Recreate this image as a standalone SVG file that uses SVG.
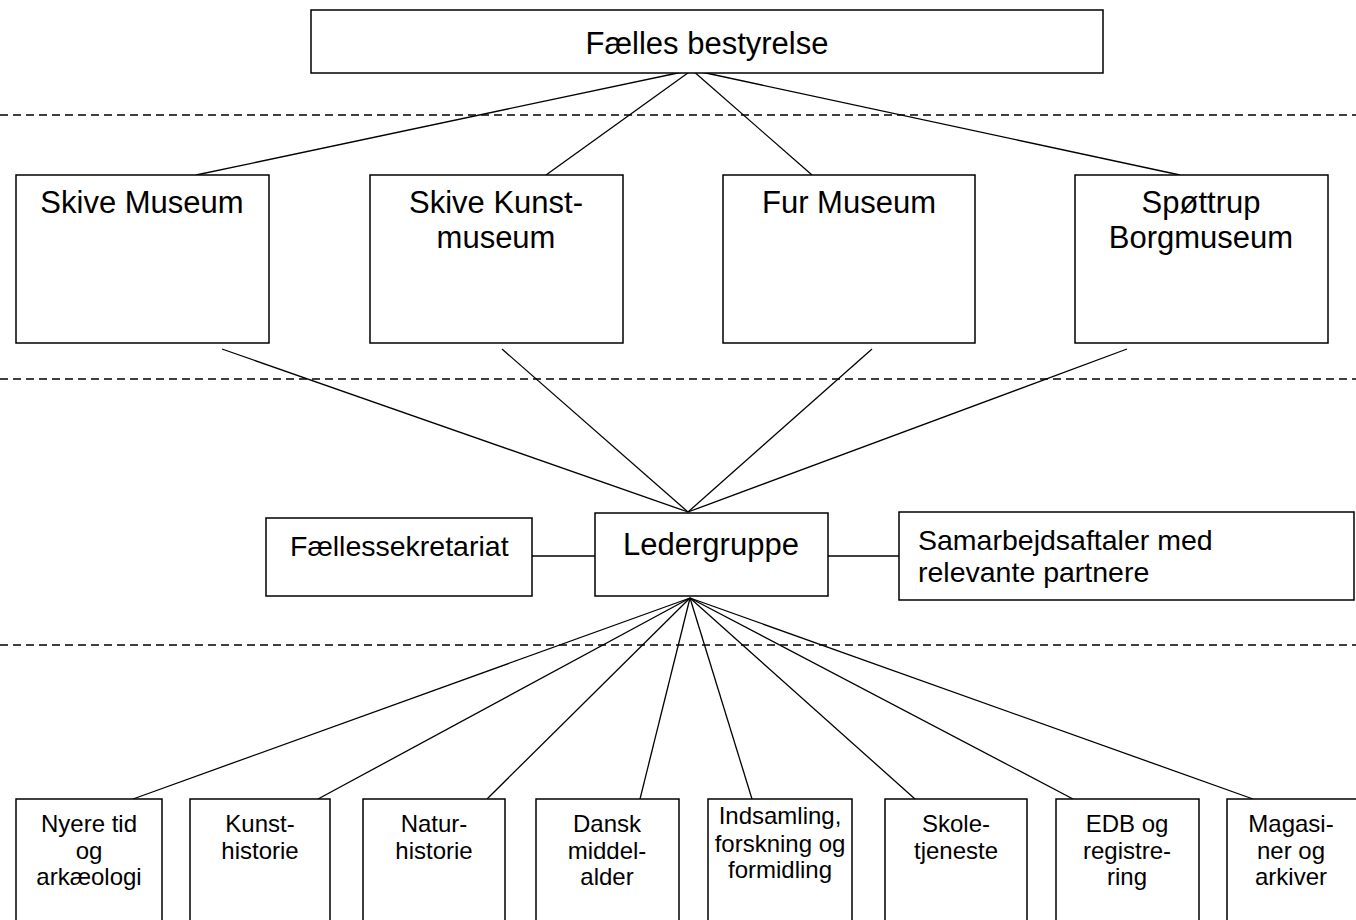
<svg xmlns="http://www.w3.org/2000/svg" width="1356" height="920" viewBox="0 0 1356 920">
<style>
rect{fill:#fff;stroke:#000;stroke-width:1.5}
line{stroke:#000;stroke-width:1.3}
.d{stroke-dasharray:8 5}
text{font-family:"Liberation Sans",Arial,sans-serif;fill:#000}
.t1{font-size:31px;text-anchor:middle}
.t2{font-size:28.5px}
.t3{font-size:24px;text-anchor:middle}
</style>
<rect x="0" y="0" width="1356" height="920" style="stroke:none"/>
<g id="connectors">
<line class="d" x1="0" y1="115" x2="1356" y2="115"/>
<line class="d" x1="0" y1="379" x2="1356" y2="379"/>
<line class="d" x1="0" y1="645" x2="1356" y2="645"/>
<line x1="692" y1="70" x2="196" y2="175"/>
<line x1="692" y1="70" x2="546" y2="175"/>
<line x1="692" y1="70" x2="812" y2="175"/>
<line x1="692" y1="70" x2="1180" y2="175"/>
<line x1="222" y1="349" x2="688" y2="512"/>
<line x1="502" y1="349" x2="688" y2="512"/>
<line x1="872" y1="349" x2="688" y2="512"/>
<line x1="1127" y1="349" x2="688" y2="512"/>
<line x1="532" y1="556" x2="595" y2="556"/>
<line x1="828" y1="556" x2="899" y2="556"/>
<line x1="690" y1="598" x2="133" y2="799"/>
<line x1="690" y1="598" x2="318" y2="799"/>
<line x1="690" y1="598" x2="487" y2="799"/>
<line x1="690" y1="598" x2="640" y2="799"/>
<line x1="690" y1="598" x2="752" y2="799"/>
<line x1="690" y1="598" x2="915" y2="799"/>
<line x1="690" y1="598" x2="1073" y2="799"/>
<line x1="690" y1="598" x2="1253" y2="799"/>
</g>
<g id="faelles-bestyrelse"><rect x="311" y="10" width="792" height="63"/><text class="t1" x="707" y="54">Fælles bestyrelse</text></g>
<g id="skive-museum"><rect x="16" y="175" width="253" height="168"/><text class="t1" x="142" y="213">Skive Museum</text></g>
<g id="skive-kunstmuseum"><rect x="370" y="175" width="253" height="168"/><text class="t1" x="496" y="213">Skive Kunst-</text><text class="t1" x="496" y="248">museum</text></g>
<g id="fur-museum"><rect x="723" y="175" width="252" height="168"/><text class="t1" x="849" y="213">Fur Museum</text></g>
<g id="spottrup"><rect x="1075" y="175" width="253" height="168"/><text class="t1" x="1201" y="213">Spøttrup</text><text class="t1" x="1201" y="248">Borgmuseum</text></g>
<g id="faellessekretariat"><rect x="266" y="518" width="266" height="78"/><text class="t2" x="290" y="556">Fællessekretariat</text></g>
<g id="ledergruppe"><rect x="595" y="513" width="233" height="83"/><text class="t1" x="711" y="555">Ledergruppe</text></g>
<g id="samarbejdsaftaler"><rect x="899" y="512" width="455" height="88"/><text class="t2" x="918" y="550">Samarbejdsaftaler med</text><text class="t2" x="918" y="582">relevante partnere</text></g>
<g id="nyere-tid"><rect x="16" y="799" width="146" height="130"/><text class="t3" x="89" y="832">Nyere tid</text><text class="t3" x="89" y="858.5">og</text><text class="t3" x="89" y="885">arkæologi</text></g>
<g id="kunsthistorie"><rect x="190" y="799" width="140" height="130"/><text class="t3" x="260" y="832">Kunst-</text><text class="t3" x="260" y="858.5">historie</text></g>
<g id="naturhistorie"><rect x="363" y="799" width="142" height="130"/><text class="t3" x="434" y="832">Natur-</text><text class="t3" x="434" y="858.5">historie</text></g>
<g id="dansk-middelalder"><rect x="536" y="799" width="143" height="130"/><text class="t3" x="607" y="832">Dansk</text><text class="t3" x="607" y="858.5">middel-</text><text class="t3" x="607" y="885">alder</text></g>
<g id="indsamling"><rect x="708" y="799" width="144" height="130"/><text class="t3" x="780" y="824">Indsamling,</text><text class="t3" x="780" y="852">forskning og</text><text class="t3" x="780" y="878">formidling</text></g>
<g id="skoletjeneste"><rect x="885" y="799" width="142" height="130"/><text class="t3" x="956" y="832">Skole-</text><text class="t3" x="956" y="858.5">tjeneste</text></g>
<g id="edb"><rect x="1056" y="799" width="143" height="130"/><text class="t3" x="1127" y="832">EDB og</text><text class="t3" x="1127" y="858.5">registre-</text><text class="t3" x="1127" y="885">ring</text></g>
<g id="magasiner"><rect x="1227" y="799" width="140" height="130"/><text class="t3" x="1291" y="832">Magasi-</text><text class="t3" x="1291" y="858.5">ner og</text><text class="t3" x="1291" y="885">arkiver</text></g>
</svg>
